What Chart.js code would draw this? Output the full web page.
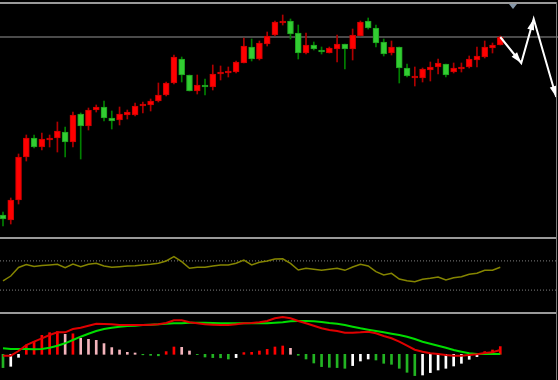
<!DOCTYPE html>
<html>
<head>
<meta charset="utf-8">
<script src="https://cdn.jsdelivr.net/npm/chart.js@4.4.0/dist/chart.umd.min.js"></script>
<style>
    html, body { margin: 0; padding: 0; background: #000; }
    #wrap { position: relative; width: 558px; height: 380px; overflow: hidden; background: #000; }
    canvas { position: absolute; left: 0; }
    #main { top: 0; }
    #rsi { top: 239px; }
    #macd { top: 315px; }
    .sep { position: absolute; left: 0; width: 556px; height: 2px; background: #9a9a9a; }
    #edge { position: absolute; left: 556px; top: 2px; width: 1px; height: 378px; background: #7a7a7a; }
    #shift { position: absolute; left: 509px; top: 4px; width: 0; height: 0;
             border-left: 4px solid transparent; border-right: 4px solid transparent; border-top: 5px solid #8596a8; }
</style>
</head>
<body>
<div id="wrap">
    <canvas id="main" width="558" height="237"></canvas>
    <canvas id="rsi" width="558" height="73"></canvas>
    <canvas id="macd" width="558" height="65"></canvas>
    <div class="sep" style="top:2px"></div>
    <div class="sep" style="top:237px"></div>
    <div class="sep" style="top:312px"></div>
    <div id="edge"></div>
    <div id="shift"></div>
</div>
<script>
// Candles (price units)
const candleOpen  = [25,20,40,83,102,93,100,102,108,98,126,114,130,133,122,120,125,125,134,135,139,145,157,181,165,149,155,153,166,167,168,177,193,181,196,205,217,219,207,187,195,190,187,191,196,191,204,219,212,198,187,193,172,162,162,170,173,176,168,171,173,180,183,192,195];
const candleHigh  = [28,42,86,105,105,107,105,118,113,128,127,132,135,139,129,133,130,137,138,141,157,158,185,183,165,165,161,175,174,173,179,202,201,199,208,219,225,221,215,207,198,193,193,205,196,211,219,222,215,201,199,193,176,173,172,178,181,176,177,177,184,193,199,197,204];
const candleLow   = [14,16,36,79,92,90,93,88,83,93,81,110,128,119,111,115,121,124,127,129,138,144,156,158,149,146,145,150,160,163,167,177,179,180,194,204,215,201,181,186,190,186,187,178,171,180,204,211,193,184,185,157,163,154,158,159,166,163,167,168,172,173,182,187,195];
const candleClose = [21,40,83,102,93,101,102,109,98,125,114,130,133,122,119,126,128,134,136,139,145,157,183,165,149,155,153,166,167,169,178,194,181,197,204,218,219,206,187,195,191,188,192,196,191,205,218,212,197,186,193,172,164,163,171,173,177,165,172,173,181,184,193,195,203];

// Projected zigzag after the last candle
const forecastX = [64, 66.7, 68.3, 71.2];
const forecastY = [203, 177, 221, 143];

// RSI panel
const rsiValues = [42.5,49.3,61,65.1,62.3,63.7,64.4,65.3,60.7,65.8,62.1,65.3,66.7,63,61.2,62.1,63,63.4,64.4,65.3,66.7,69.9,75.8,68.9,59.9,61.2,61.2,63,64.4,64.4,66.7,71.2,64.4,68.1,69.9,72.6,72.9,66.7,57.5,59.9,58.5,57.1,58.5,59.9,57.1,61.6,65.3,63,55.2,50.7,53,45.2,42.9,41.5,44.8,46.2,47.9,43.8,47,48.4,51.6,53,57.1,57.1,61.2];
const rsiLevels = [70, 30];

// MACD panel
const macdLine = [-1.4,-1.4,3.3,9.3,12.6,16,19.3,22,22,25.3,26.6,28.6,30.6,30.3,30,29.3,29.3,29.3,29.3,29.6,30,31.3,34,34,32,31,30,29.6,29.3,29.3,30,31,31.3,32,33.3,36,37.3,36,33.3,31,28.6,26,24.3,23.3,21.6,21.6,22,22.6,21,18.3,16,12.6,8.6,4.6,2.6,1,0.3,-0.7,-1.4,-1.4,-0.7,0,1.3,2,4.3];
const signalLine = [6,5.3,5.3,5.3,5,5.3,6.6,8.6,11,14.3,17.6,20.6,23.3,25.3,26.6,27.6,28.3,28.6,29.3,29.6,30,30.6,31,31,31.6,31.6,31.6,31.3,31,31,31,31,31,31,31,31.6,32,33,33.3,33.3,33,32.3,31.3,30.6,29.3,27.6,26,24.6,23.3,22,20.6,19.3,17.6,15.3,12.6,10.6,8.6,6.6,4.3,2.6,1,0.3,0.3,0.3,0.3];
const histogram = [-13.3,-12,-3,9.3,13,19,21.6,22.7,20,20.5,16,15,14,10.7,6.7,4.3,2,1.3,-0.5,-1,-1.5,2.7,7.3,7,3.3,-0.3,-2.7,-3.3,-3.5,-4.7,-3.3,1.7,2,3.3,5,7.3,8.3,6,-1,-4.7,-8.7,-12.3,-13,-13.3,-14,-11.3,-6.7,-4.7,-5.7,-9,-10,-14,-18,-21.3,-20.7,-18.3,-15.7,-14,-11.7,-9,-5,-2.3,2.7,4.3,7.7];

const X_MIN = -0.386;
const X_MAX = 71.43;

const idx = candleOpen.map((_, i) => i);
const isUp = idx.map(i => candleClose[i] >= candleOpen[i]);
const lastClose = candleClose[candleClose.length - 1];

function xScale() {
    return { type: 'linear', display: false, min: X_MIN, max: X_MAX, offset: false };
}

function baseOptions(yMin, yMax) {
    return {
        responsive: false,
        animation: false,
        devicePixelRatio: 1,
        layout: { padding: 0 },
        plugins: { legend: { display: false }, tooltip: { enabled: false } },
        scales: {
            x: xScale(),
            y: { display: false, min: yMin, max: yMax }
        }
    };
}

// arrow heads at the end of each zigzag segment
const arrowHeads = {
    id: 'arrowHeads',
    afterDatasetsDraw(chart) {
        const dsIndex = chart.data.datasets.findIndex(d => d.label === 'forecast');
        if (dsIndex < 0) return;
        const pts = chart.getDatasetMeta(dsIndex).data;
        const ctx = chart.ctx;
        ctx.save();
        ctx.fillStyle = '#ffffff';
        for (let k = 1; k < pts.length; k++) {
            const a = pts[k - 1], b = pts[k];
            const ang = Math.atan2(b.y - a.y, b.x - a.x);
            const len = 11, half = 3.5;
            ctx.beginPath();
            ctx.moveTo(b.x, b.y);
            ctx.lineTo(b.x - len * Math.cos(ang) + half * Math.sin(ang), b.y - len * Math.sin(ang) - half * Math.cos(ang));
            ctx.lineTo(b.x - len * Math.cos(ang) - half * Math.sin(ang), b.y - len * Math.sin(ang) + half * Math.cos(ang));
            ctx.closePath();
            ctx.fill();
        }
        ctx.restore();
    }
};

// Main candlestick panel
new Chart(document.getElementById('main'), {
    type: 'bar',
    data: {
        datasets: [
            {
                label: 'forecast',
                type: 'line',
                order: 0,
                data: forecastX.map((x, k) => ({ x: x, y: forecastY[k] })),
                borderColor: '#ffffff',
                borderWidth: 2,
                pointRadius: 0,
                tension: 0,
                clip: false
            },
            {
                label: 'body',
                order: 1,
                grouped: false,
                data: idx.map(i => ({ x: i, y: [candleOpen[i], candleClose[i]] })),
                backgroundColor: isUp.map(u => u ? '#ff0000' : '#32cd32'),
                borderColor: isUp.map(u => u ? '#c80000' : '#1e9e1e'),
                borderWidth: 1,
                borderSkipped: false,
                barThickness: 6,
                minBarLength: 2
            },
            {
                label: 'wick',
                order: 2,
                grouped: false,
                data: idx.map(i => ({ x: i, y: [candleLow[i], candleHigh[i]] })),
                backgroundColor: isUp.map(u => u ? '#b00000' : '#008000'),
                borderWidth: 0,
                barThickness: 1
            },
            {
                label: 'price',
                type: 'line',
                order: 3,
                data: [{ x: X_MIN, y: lastClose }, { x: X_MAX, y: lastClose }],
                borderColor: '#4a4a4a',
                borderWidth: 2,
                pointRadius: 0
            }
        ]
    },
    options: baseOptions(3, 240),
    plugins: [arrowHeads]
});

// RSI panel
new Chart(document.getElementById('rsi'), {
    type: 'line',
    data: {
        datasets: [
            {
                order: 1,
                data: idx.map(i => ({ x: i, y: rsiValues[i] })),
                borderColor: '#858500',
                borderWidth: 1.5,
                pointRadius: 0,
                tension: 0
            },
            ...rsiLevels.map(lv => ({
                order: 2,
                data: [{ x: X_MIN, y: lv }, { x: X_MAX, y: lv }],
                borderColor: '#808080',
                borderWidth: 1,
                borderDash: [1, 2],
                pointRadius: 0
            }))
        ]
    },
    options: baseOptions(0, 100)
});

// MACD panel
const histColors = histogram.map((v, i) => {
    const prev = i > 0 ? histogram[i - 1] : v;
    if (v >= 0) return v >= prev ? '#ff0000' : '#f4b4bc';
    return v <= prev ? '#22b422' : '#ffffff';
});

new Chart(document.getElementById('macd'), {
    type: 'bar',
    data: {
        datasets: [
            {
                type: 'line',
                order: 1,
                data: idx.map(i => ({ x: i, y: macdLine[i] })),
                borderColor: '#e00000',
                borderWidth: 2,
                pointRadius: 0,
                tension: 0
            },
            {
                type: 'line',
                order: 2,
                data: idx.map(i => ({ x: i, y: signalLine[i] })),
                borderColor: '#00dd00',
                borderWidth: 2,
                pointRadius: 0,
                tension: 0
            },
            {
                order: 3,
                grouped: false,
                data: idx.map(i => ({ x: i, y: histogram[i] })),
                backgroundColor: histColors,
                borderWidth: 0,
                barThickness: 2
            }
        ]
    },
    options: baseOptions(-25.7, 39.3)
});
</script>
</body>
</html>
